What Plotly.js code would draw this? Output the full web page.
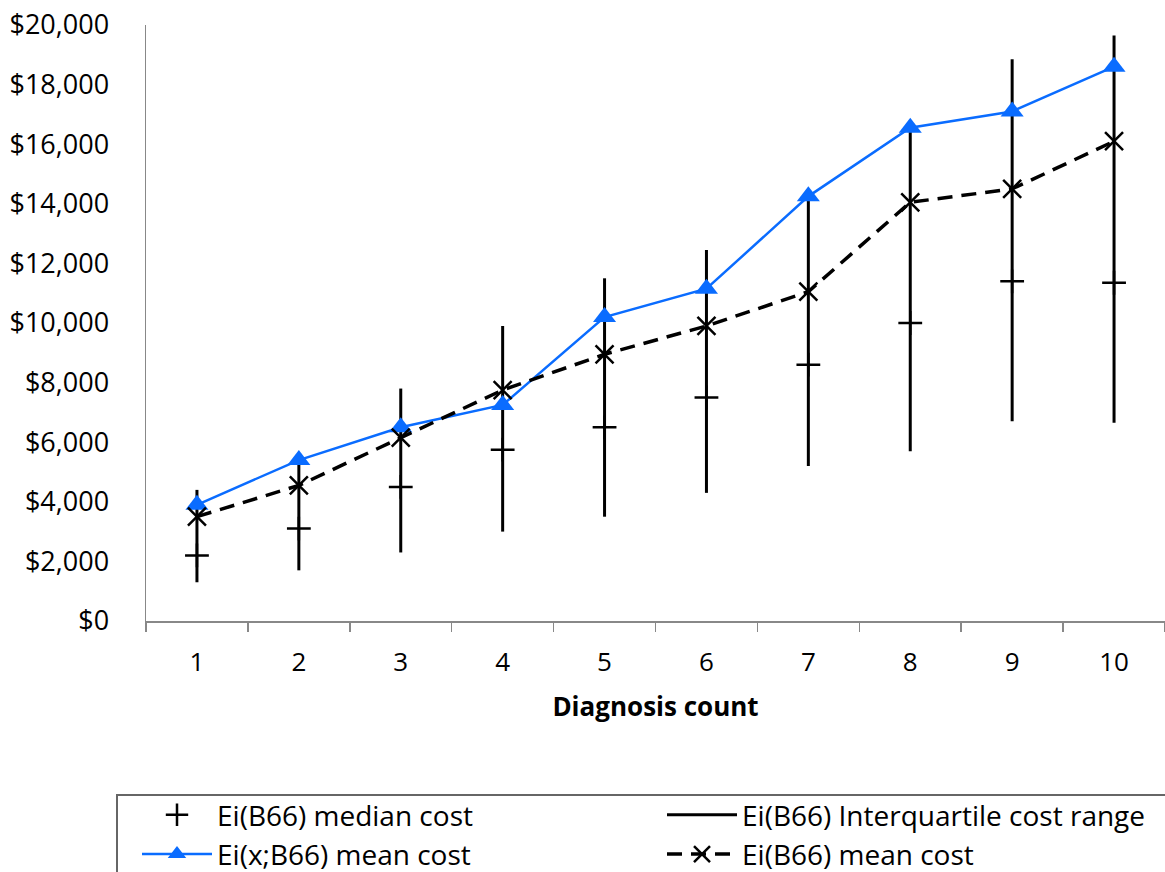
<!DOCTYPE html>
<html>
<head>
<meta charset="utf-8">
<script src="https://cdn.plot.ly/plotly-3.0.1.min.js"></script>
<style>
  html, body { margin: 0; padding: 0; background: #ffffff; }
  #chart { width: 1165px; height: 872px; }
</style>
</head>
<body>
<div id="chart"></div>
<script>
// Diagnosis count categories
const categories = ['1', '2', '3', '4', '5', '6', '7', '8', '9', '10'];

// Ei(B66) cost distribution
const medianCost = [2200, 3100, 4500, 5750, 6500, 7500, 8600, 10000, 11400, 11350];
const iqrLow     = [1300, 1700, 2300, 3000, 3500, 4300, 5200, 5700, 6700, 6650];
const iqrHigh    = [4400, 5300, 7800, 9900, 11500, 12450, 14500, 16600, 18850, 19650];

// Mean costs
const meanXB66 = [3900, 5400, 6500, 7250, 10200, 11150, 14250, 16550, 17100, 18600];
const meanB66  = [3500, 4550, 6150, 7750, 8950, 9900, 11050, 14050, 14500, 16100];

// Vertical interquartile segments, separated by gaps
const iqrX = [], iqrY = [];
categories.forEach((c, i) => {
  iqrX.push(c, c, null);
  iqrY.push(iqrLow[i], iqrHigh[i], null);
});

const FONT = '"Open Sans", "DejaVu Sans", sans-serif';

// Plot area geometry (px) used to place the legends and their frame in paper units
const PLOT_L = 146, PLOT_T = 25, PLOT_W = 1019, PLOT_H = 596;
const px2x = (px) => (px - PLOT_L) / PLOT_W;
const px2y = (py) => (PLOT_T + PLOT_H - py) / PLOT_H;

const traces = [
  {
    name: 'Ei(B66) Interquartile cost range',
    x: iqrX, y: iqrY,
    type: 'scatter', mode: 'lines',
    line: { color: '#000000', width: 3 },
    connectgaps: false,
    legend: 'legend2',
    legendrank: 1,
    hoverinfo: 'skip'
  },
  {
    name: 'Ei(B66) median cost',
    x: categories, y: medianCost,
    type: 'scatter', mode: 'markers',
    marker: { symbol: 'cross-thin', size: 17, color: '#000000',
              line: { color: '#000000', width: 2.5 } },
    legend: 'legend',
    legendrank: 1
  },
  {
    name: 'Ei(x;B66) mean cost',
    x: categories, y: meanXB66,
    type: 'scatter', mode: 'lines+markers',
    line: { color: '#0a6cff', width: 2.5 },
    marker: { symbol: 'triangle-up', size: 20, color: '#0a6cff' },
    legend: 'legend',
    legendrank: 2
  },
  {
    name: 'Ei(B66) mean cost',
    x: categories, y: meanB66,
    type: 'scatter', mode: 'lines+markers',
    line: { color: '#000000', width: 3.5, dash: '15px,9px' },
    marker: { symbol: 'x-thin', size: 18, color: '#000000',
              line: { color: '#000000', width: 2.5 } },
    legend: 'legend2',
    legendrank: 2
  }
];

const legendBase = {
  orientation: 'v',
  xanchor: 'left',
  yanchor: 'top',
  itemwidth: 70,
  borderwidth: 0,
  bgcolor: 'rgba(0,0,0,0)',
  font: { family: FONT, size: 28, color: '#000000' },
  itemclick: false,
  itemdoubleclick: false
};

const layout = {
  width: 1165,
  height: 872,
  margin: { l: PLOT_L, r: 0, t: PLOT_T, b: 872 - PLOT_T - PLOT_H, autoexpand: false },
  paper_bgcolor: '#ffffff',
  plot_bgcolor: '#ffffff',
  font: { family: FONT, size: 25, color: '#000000' },
  showlegend: true,
  xaxis: {
    type: 'category',
    range: [-0.5, 9.5],
    tickson: 'boundaries',
    ticks: 'outside',
    ticklen: 9,
    tickwidth: 1.5,
    tickcolor: '#888888',
    showline: true,
    linecolor: '#888888',
    linewidth: 1.5,
    showgrid: false,
    zeroline: false,
    tickfont: { family: FONT, size: 26, color: '#000000' },
    ticklabelstandoff: 17,
    title: {
      text: 'Diagnosis count',
      font: { family: FONT, size: 26, color: '#000000', weight: 'bold' },
      standoff: 20
    },
    automargin: false
  },
  yaxis: {
    range: [0, 20000],
    dtick: 2000,
    tickprefix: '$',
    tickformat: ',d',
    ticks: '',
    showline: true,
    linecolor: '#888888',
    linewidth: 1.5,
    showgrid: false,
    zeroline: false,
    tickfont: { family: FONT, size: 27, color: '#000000' },
    ticklabelstandoff: 30,
    automargin: false
  },
  legend: Object.assign({}, legendBase, { x: px2x(137), y: px2y(790) }),
  legend2: Object.assign({}, legendBase, { x: px2x(662), y: px2y(790) }),
  shapes: [
    {
      // legend frame, running past the right and bottom edges of the page
      type: 'rect', xref: 'paper', yref: 'paper', layer: 'below',
      x0: px2x(117), x1: px2x(1180), y0: px2y(795), y1: px2y(900),
      line: { color: '#666666', width: 2 },
      fillcolor: 'rgba(0,0,0,0)'
    }
  ]
};

Plotly.newPlot('chart', traces, layout, { displayModeBar: false, staticPlot: true });
</script>
</body>
</html>
